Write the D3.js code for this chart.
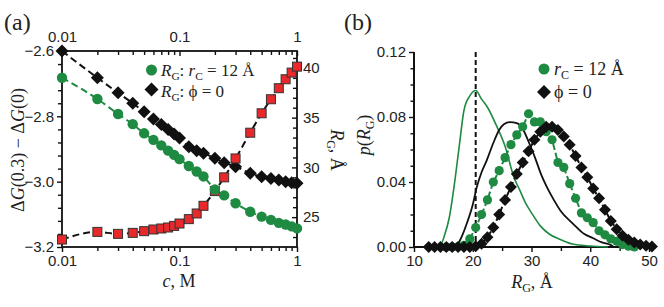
<!DOCTYPE html>
<html>
<head>
<meta charset="utf-8">
<script src="https://cdn.jsdelivr.net/npm/d3@7"></script>
<style>
  body { margin: 0; background: #fff; }
  svg { display: block; font-family: "Liberation Serif", "Times New Roman", serif; }
  .tk text { font-size: 15px; fill: #222; }
  .tk line { stroke: #111; stroke-width: 1.4; }
  .tk path { display: none; }
</style>
</head>
<body>
<div id="chart"></div>
<script>
// ---- panel (a) data ----
const conc = [0.01, 0.02, 0.03, 0.04, 0.05, 0.06, 0.07, 0.08, 0.09, 0.1,
              0.12, 0.14, 0.16, 0.2, 0.24, 0.3, 0.4, 0.5, 0.6, 0.7, 0.8, 0.9, 1.0];
const dgPhi0 = [-2.600, -2.682, -2.728, -2.760, -2.786, -2.808, -2.825, -2.840, -2.854, -2.866,
                -2.893, -2.905, -2.913, -2.928, -2.942, -2.954, -2.974, -2.985, -2.990, -2.995,
                -3.000, -3.003, -3.005];
const dgRc12 = [-2.682, -2.747, -2.793, -2.824, -2.852, -2.872, -2.889, -2.905, -2.918, -2.931,
                -2.952, -2.969, -2.984, -3.024, -3.042, -3.066, -3.092, -3.107, -3.117, -3.126,
                -3.131, -3.137, -3.143];
const rgConc = [22.75, 23.52, 23.32, 23.42, 23.59, 23.76, 23.86, 23.96, 24.12, 24.36,
                24.80, 25.37, 26.14, 27.62, 29.0, 30.9, 33.49, 35.44, 36.85, 37.96,
                38.86, 39.53, 40.13];
const cTicks = [0.01, 0.1, 1];
const dgTicks = [-3.2, -3.0, -2.8, -2.6];
const rgTicks = [25, 30, 35, 40];

// ---- panel (b) data ----
const binsPhi = [12.5, 13.5, 14.5, 15.5, 16.5, 17.5, 18.5, 19.5, 20.5, 21.5, 22.5, 23.5, 24.5,
                 25.5, 26.5, 27.5, 28.5, 29.5, 30.5, 31.5, 32.5, 33.5, 34.5, 35.5, 36.5, 37.5,
                 38.5, 39.5, 40.5, 41.5, 42.5, 43.5, 44.5, 45.5, 46.5, 47.5, 48.5, 49.5, 50.5];
const pPhi = [0, 0, 0, 0, 0, 0, 0, 0, 0.0005, 0.002, 0.006, 0.012, 0.020,
              0.029, 0.037, 0.045, 0.052, 0.059, 0.066, 0.071, 0.074, 0.074, 0.072, 0.068, 0.063, 0.056,
              0.049, 0.043, 0.036, 0.030, 0.023, 0.016, 0.011, 0.007, 0.0045, 0.0028, 0.0015, 0.0008, 0.0003];
const binsRc = [15.5, 16.5, 17.5, 18.5, 19.5, 20.5, 21.5, 22.5, 23.5, 24.5, 25.5, 26.5, 27.5,
                28.5, 29.5, 30.5, 31.5, 32.5, 33.5, 34.5, 35.5, 36.5, 37.5, 38.5, 39.5, 40.5,
                41.5, 42.5, 43.5, 44.5, 45.5, 46.5, 47.5];
const pRc = [0, 0, 0.0003, 0.001, 0.005, 0.012, 0.020, 0.029, 0.040, 0.047, 0.055, 0.063, 0.069,
             0.074, 0.082, 0.077, 0.077, 0.071, 0.066, 0.052, 0.049, 0.039, 0.030, 0.021, 0.018, 0.015,
             0.010, 0.0075, 0.005, 0.0035, 0.0015, 0.0005, 0];
const rgGreenLine = [14.5, 15, 16, 17, 17.8, 18.5, 19.5, 20.5, 21.5, 22.5, 24, 25.5, 27, 28, 29,
                     30, 31.5, 33, 35, 37, 40, 43];
const pGreenLine = [0, 0.005, 0.018, 0.042, 0.065, 0.084, 0.093, 0.0963, 0.091, 0.086, 0.075, 0.062,
                    0.043, 0.035, 0.027, 0.021, 0.013, 0.008, 0.0045, 0.0018, 0.0006, 0];
const rgBlackLine = [16.8, 17.5, 18.2, 19, 20, 20.7, 21.5, 22.4, 23.5, 24.5, 25.3, 26.3, 27.5,
                     28.6, 29.6, 30.6, 31.6, 32.6, 33.8, 35, 37, 39, 40.5, 42, 43.6, 44];
const pBlackLine = [0, 0.002, 0.007, 0.0146, 0.026, 0.037, 0.046, 0.0535, 0.064, 0.072, 0.0755, 0.0768,
                    0.0762, 0.072, 0.064, 0.055, 0.045, 0.037, 0.029, 0.022, 0.0146, 0.008, 0.0054,
                    0.0028, 0.001, 0];
const peakRg = 20.5;
const pTicks = [0, 0.04, 0.08, 0.12];
const rgTicksB = [10, 20, 30, 40, 50];

const green = "#1e8a42", red = "#e8282b", black = "#111";

const svg = d3.select("#chart").append("svg").attr("width", 664).attr("height", 307);

// ================= panel (a) =================
const xA = d3.scaleLog().domain([0.01, 1]).range([62, 297]);
const yL = d3.scaleLinear().domain([-3.2, -2.6]).range([247, 51]);
const yR = d3.scaleLinear().domain([22, 41.7]).range([247, 51]);
const cMinor = [0.02, 0.03, 0.04, 0.05, 0.06, 0.07, 0.08, 0.09, 0.2, 0.3, 0.4, 0.5, 0.6, 0.7, 0.8, 0.9];

function addAxis(axis, tr) {
  return svg.append("g").attr("class", "tk").attr("transform", tr).call(axis);
}
addAxis(d3.axisBottom(xA).tickValues(cTicks).tickFormat(d3.format("~g")).tickSize(5).tickPadding(3), "translate(0,247)");
addAxis(d3.axisBottom(xA).tickValues(cMinor).tickFormat("").tickSize(4), "translate(0,247)");
addAxis(d3.axisTop(xA).tickValues(cTicks).tickFormat(d3.format("~g")).tickSizeInner(-5).tickSizeOuter(0).tickPadding(9), "translate(0,51)");
addAxis(d3.axisTop(xA).tickValues(cMinor).tickFormat("").tickSizeInner(-4).tickSizeOuter(0), "translate(0,51)");
addAxis(d3.axisLeft(yL).tickValues(dgTicks).tickFormat(d3.format(".1f")).tickSize(5).tickPadding(3), "translate(62,0)");
addAxis(d3.axisLeft(yL).tickValues(d3.range(-3.16, -2.6, 0.04).filter(v => Math.abs(v * 5 - Math.round(v * 5)) > 0.01)).tickFormat("").tickSize(4), "translate(62,0)");
addAxis(d3.axisRight(yR).tickValues(rgTicks).tickSizeInner(-5).tickSizeOuter(0).tickPadding(6), "translate(297,0)");
addAxis(d3.axisRight(yR).tickValues(d3.range(23, 42).filter(v => v % 5)).tickFormat("").tickSizeInner(-4).tickSizeOuter(0), "translate(297,0)");

svg.append("rect").attr("x", 62).attr("y", 51).attr("width", 235).attr("height", 196)
  .attr("fill", "none").attr("stroke", black).attr("stroke-width", 1.8);

const lineA = (yS, vals) => d3.line().curve(d3.curveMonotoneX)
  .x((d, i) => xA(conc[i])).y((d, i) => yS(vals[i]))(conc);

// fitted dashed lines
svg.append("path").attr("d", lineA(yL, dgPhi0)).attr("fill", "none")
  .attr("stroke", black).attr("stroke-width", 2).attr("stroke-dasharray", "7,4");
svg.append("path").attr("d", lineA(yL, dgRc12)).attr("fill", "none")
  .attr("stroke", green).attr("stroke-width", 2).attr("stroke-dasharray", "7,4");
svg.append("path").attr("d", lineA(yR, rgConc)).attr("fill", "none")
  .attr("stroke", black).attr("stroke-width", 2).attr("stroke-dasharray", "7,4");

function diamondPath(s) {
  return `M0,${-s}L${s},0L0,${s}L${-s},0Z`;
}

svg.append("g").selectAll("path").data(conc).join("path")
  .attr("d", diamondPath(6.5))
  .attr("transform", (d, i) => `translate(${xA(d)},${yL(dgPhi0[i])})`)
  .attr("fill", black);
svg.append("g").selectAll("rect").data(conc).join("rect")
  .attr("x", d => xA(d) - 4.5).attr("width", 9).attr("height", 9)
  .attr("y", (d, i) => yR(rgConc[i]) - 4.5)
  .attr("fill", red).attr("stroke", "#333").attr("stroke-width", 1);
svg.append("g").selectAll("circle").data(conc).join("circle")
  .attr("cx", d => xA(d)).attr("cy", (d, i) => yL(dgRc12[i])).attr("r", 5.2)
  .attr("fill", green);

// legend (a)
svg.append("circle").attr("cx", 151.5).attr("cy", 70).attr("r", 5.5).attr("fill", green);
svg.append("path").attr("d", diamondPath(7)).attr("transform", "translate(151.5,89.5)").attr("fill", black);

function legendText(x, y, parts, size) {
  const fs = size || 18;
  const t = svg.append("text").attr("x", x).attr("y", y).attr("font-size", fs).attr("fill", "#222");
  parts.forEach(p => {
    const s = t.append("tspan").text(p.t);
    if (p.i) s.attr("font-style", "italic");
    if (p.sub) s.attr("font-size", fs * 0.67).attr("dy", 4);
    if (p.up) s.attr("dy", -4);
  });
  return t;
}
legendText(161, 76, [{t: "R", i: 1}, {t: "G", sub: 1}, {t: ": ", up: 1}, {t: "r", i: 1}, {t: "C", sub: 1}, {t: " = 12 Å", up: 1}], 17);
legendText(161, 97, [{t: "R", i: 1}, {t: "G", sub: 1}, {t: ": ϕ = 0", up: 1}], 17);

// axis labels (a)
legendText(179, 287, [{t: "c", i: 1}, {t: ", M"}]).attr("text-anchor", "middle");
legendText(0, 0, [{t: "Δ"}, {t: "G", i: 1}, {t: "(0.3) − Δ"}, {t: "G", i: 1}, {t: "(0)"}])
  .attr("text-anchor", "middle").attr("transform", "translate(24,150) rotate(-90)");
legendText(0, 0, [{t: "R", i: 1}, {t: "G", sub: 1}, {t: ", Å", up: 1}])
  .attr("text-anchor", "middle").attr("transform", "translate(331,150) rotate(90)");

svg.append("text").attr("x", 4).attr("y", 30).attr("font-size", 24).attr("fill", "#222").text("(a)");

// ================= panel (b) =================
const xB = d3.scaleLinear().domain([10, 50]).range([414, 649]);
const yB = d3.scaleLinear().domain([0, 0.12]).range([247, 52]);

addAxis(d3.axisLeft(yB).tickValues(pTicks).tickFormat(d3.format(".2f")).tickSize(5).tickPadding(3), "translate(414,0)");
addAxis(d3.axisLeft(yB).tickValues([0.01, 0.02, 0.03, 0.05, 0.06, 0.07, 0.09, 0.10, 0.11]).tickFormat("").tickSize(3.5), "translate(414,0)");
addAxis(d3.axisBottom(xB).tickValues(rgTicksB).tickSize(5).tickPadding(3), "translate(0,247)");
addAxis(d3.axisBottom(xB).tickValues([15, 25, 35, 45]).tickFormat("").tickSize(4), "translate(0,247)");
svg.append("line").attr("x1", 414).attr("x2", 414).attr("y1", 52).attr("y2", 248)
  .attr("stroke", black).attr("stroke-width", 2);
svg.append("line").attr("x1", 413).attr("x2", 655).attr("y1", 247).attr("y2", 247)
  .attr("stroke", black).attr("stroke-width", 2);

// vertical dashed marker
svg.append("line").attr("x1", xB(peakRg)).attr("x2", xB(peakRg)).attr("y1", yB(0.12)).attr("y2", yB(0))
  .attr("stroke", black).attr("stroke-width", 2).attr("stroke-dasharray", "5,3");

const lineB = (xs, ys, curve) => d3.line().curve(curve)
  .x((d, i) => xB(xs[i])).y((d, i) => yB(ys[i]))(xs);

svg.append("path").attr("d", lineB(rgGreenLine, pGreenLine, d3.curveMonotoneX)).attr("fill", "none")
  .attr("stroke", green).attr("stroke-width", 1.6);
svg.append("path").attr("d", lineB(rgBlackLine, pBlackLine, d3.curveMonotoneX)).attr("fill", "none")
  .attr("stroke", black).attr("stroke-width", 1.8);

svg.append("path").attr("d", lineB(binsRc, pRc, d3.curveLinear)).attr("fill", "none")
  .attr("stroke", green).attr("stroke-width", 2).attr("stroke-dasharray", "6,3");
svg.append("g").selectAll("circle").data(binsRc).join("circle")
  .attr("cx", d => xB(d)).attr("cy", (d, i) => yB(pRc[i])).attr("r", 4.6).attr("fill", green);

svg.append("path").attr("d", lineB(binsPhi, pPhi, d3.curveLinear)).attr("fill", "none")
  .attr("stroke", black).attr("stroke-width", 2).attr("stroke-dasharray", "6,3");
svg.append("g").selectAll("path").data(binsPhi).join("path")
  .attr("d", diamondPath(6))
  .attr("transform", (d, i) => `translate(${xB(d)},${yB(pPhi[i])})`)
  .attr("fill", black);

// legend (b)
svg.append("circle").attr("cx", 544).attr("cy", 69).attr("r", 5.5).attr("fill", green);
svg.append("path").attr("d", diamondPath(7)).attr("transform", "translate(544,92)").attr("fill", black);
legendText(554, 75, [{t: "r", i: 1}, {t: "C", sub: 1}, {t: " = 12 Å", up: 1}]);
legendText(554, 98, [{t: "ϕ = 0"}]);

// axis labels (b)
legendText(532, 288, [{t: "R", i: 1}, {t: "G", sub: 1}, {t: ", Å", up: 1}]).attr("text-anchor", "middle");
legendText(0, 0, [{t: "p", i: 1}, {t: "("}, {t: "R", i: 1}, {t: "G", sub: 1}, {t: ")", up: 1}])
  .attr("text-anchor", "middle").attr("transform", "translate(370,135) rotate(-90)");

svg.append("text").attr("x", 344).attr("y", 30).attr("font-size", 24).attr("fill", "#222").text("(b)");
</script>
</body>
</html>
